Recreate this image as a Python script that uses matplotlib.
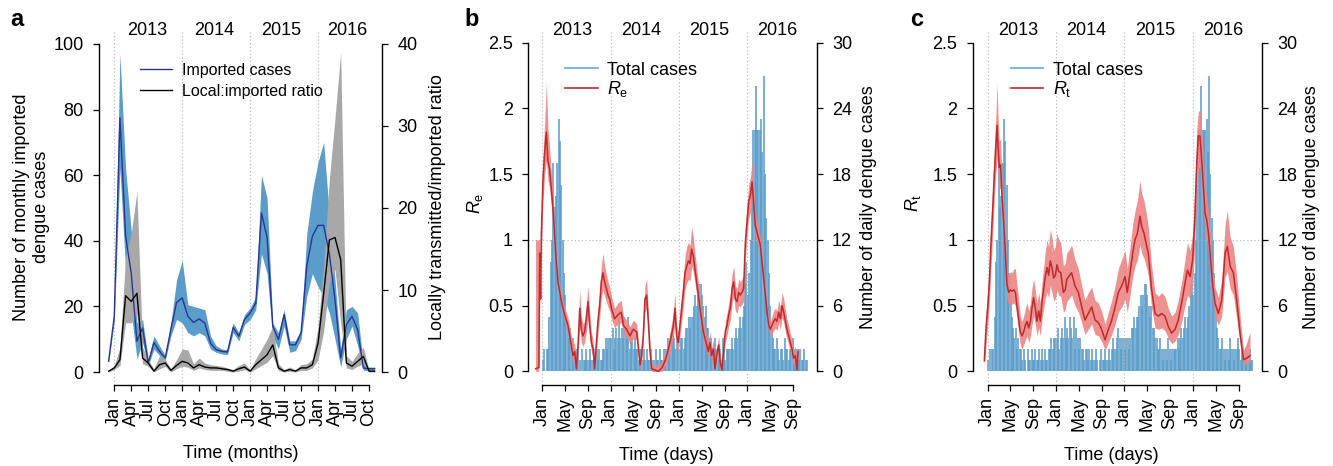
import matplotlib
matplotlib.use('Agg')
import matplotlib.pyplot as plt
from matplotlib.lines import Line2D
import numpy as np

plt.rcParams['font.family'] = ['Liberation Sans', 'DejaVu Sans']
plt.rcParams['mathtext.fontset'] = 'custom'
plt.rcParams['mathtext.rm'] = 'Liberation Sans'
plt.rcParams['mathtext.it'] = 'Liberation Sans:italic'
plt.rcParams['font.size'] = 13

W, H = 1333, 466
FS = 13

# ---------------- panel a: monthly series, Dec 2012 .. Nov 2016 (months since Jan 2013)
months = np.arange(-1, 47)
imported = [3.3, 17, 77.5, 41.4, 30, 9.4, 13.4, 2.7, 9, 6.3, 4.3, 13, 21.2, 22.6, 17, 15.1,
            16.2, 14.9, 8.8, 6.8, 6.3, 6.1, 13.6, 10.9, 16, 18, 21, 48.5, 41, 13.9, 9.9, 17.5,
            8.3, 8.3, 11.9, 32.2, 41.4, 44.7, 44.7, 36, 22, 4.3, 14.4, 17, 12.9, 1.2, 1, 1]
imported_lo = [2.8, 15.5, 62, 31, 18, 4, 9, 2, 7, 5, 3.5, 11, 16, 15, 12, 11,
               12, 11, 7, 6, 5.5, 5.3, 12, 9.5, 14.5, 16, 19, 36, 30, 11, 7, 14,
               6, 6.5, 10, 23, 30, 26, 23, 18, 10, 1.5, 10, 14, 8, 0.5, 0.5, 0.5]
imported_hi = [3.8, 18.5, 97, 62, 43, 15, 16, 4, 11, 8, 5, 15, 28, 34, 20.5, 20,
               19.5, 19, 11, 8, 7, 6.8, 15, 12, 17.5, 19.5, 23, 60, 53, 15, 12, 19,
               9.5, 9.5, 13, 42, 55, 64, 70, 48, 28, 7, 19, 20, 18, 2.5, 1.5, 1.5]
ratio = [0.1, 0.5, 1.5, 9.3, 8.6, 9.6, 1.7, 1.1, 0.1, 0.9, 1.1, 0.2, 0.8, 1.3, 1.1, 0.5,
         0.9, 0.6, 0.5, 0.5, 0.4, 0.3, 0.1, 0.4, 0.6, 0.1, 0.9, 1.5, 2.1, 3.3, 0.5, 0.1,
         0.3, 0.1, 0.5, 0.5, 0.9, 3.5, 9.6, 16.1, 16.4, 13.7, 1.1, 0.7, 1.3, 1.9, 0.1, 0.1]
ratio_lo = [0, 0.3, 0.8, 6, 6, 7, 1, 0.7, 0, 0.4, 0.7, 0, 0.4, 0.7, 0.6, 0.2,
            0.5, 0.3, 0.2, 0.2, 0.2, 0.1, 0, 0.1, 0.3, 0, 0.4, 0.8, 1.2, 2, 0.2, 0,
            0.1, 0, 0.2, 0.2, 0.5, 1.5, 5, 10.9, 12.5, 6, 0.5, 0.3, 0.7, 1, 0, 0]
ratio_hi = [0.2, 0.8, 3, 14, 17, 22, 3, 1.5, 0.4, 2, 1.5, 0.4, 1.5, 2.8, 2.7, 1,
            1.7, 1.1, 0.9, 0.8, 0.7, 0.5, 0.3, 0.8, 1.1, 0.3, 1.6, 2.8, 4, 5.6, 1, 0.3,
            0.6, 0.3, 0.9, 1, 1.6, 5.5, 13, 23.5, 31, 39, 2, 1.3, 2.3, 3, 0.3, 0.2]

month_ticks = np.arange(0, 46, 3)
month_labels = ['Jan', 'Apr', 'Jul', 'Oct'] * 4

# ---------------- panels b, c: daily total cases (weekly maxima, from 1 Jan of each year)
cases_2013 = [1, 2, 0, 2, 2, 5, 10, 12, 19, 15, 16, 19, 23, 21, 17, 12, 9, 7, 5, 4,
              3, 4, 2, 3, 2, 2, 1, 2, 1, 0, 2, 1, 1, 2, 1, 1, 2, 1, 1, 2,
              1, 2, 1, 2, 1, 1, 2, 2, 3, 2, 3, 3]
cases_2014 = [3, 4, 2, 3, 4, 3, 5, 3, 4, 3, 5, 4, 3, 5, 2, 4, 3, 2, 3, 2,
              2, 1, 2, 2, 1, 2, 1, 2, 1, 1, 2, 1, 0, 1, 2, 1, 1, 2, 1, 1,
              2, 1, 2, 3, 2, 2, 3, 4, 3, 2, 3, 3]
cases_2015 = [2, 3, 3, 2, 3, 4, 4, 5, 4, 5, 5, 6, 7, 6, 7, 8, 8, 7, 6, 5,
              6, 4, 4, 3, 3, 2, 2, 3, 2, 1, 2, 2, 1, 3, 2, 1, 2, 2, 2, 2,
              3, 2, 3, 4, 3, 4, 5, 4, 5, 6, 8, 10]
cases_2016 = [7, 9, 12, 17, 22, 22, 26, 22, 22, 22, 23, 20, 27, 18, 14, 12, 9, 6, 4, 3,
              2, 2, 3, 2, 1, 2, 2, 1, 3, 2, 2, 1, 2, 2, 3, 2, 1, 2, 2, 1,
              2, 1, 1, 2, 1, 1]

# Re (days since 1 Jan 2013)
re_day = [-36, -18, -14, -9, -5, 4, 13, 22, 30, 39, 48, 57, 66, 75, 84, 102, 119, 137, 152, 164,
          173, 182, 191, 200, 208, 217, 226, 235, 244, 253, 262, 271, 280, 289, 297, 306, 315, 324, 333, 342,
          351, 360, 369, 386, 404, 422, 433, 450, 468, 486, 504, 522, 530, 539, 548, 557, 566, 575, 584, 600,
          620, 640, 655, 668, 682, 700, 708, 717, 726, 735, 744, 753, 762, 771, 780, 789, 797, 806, 815, 824,
          842, 860, 878, 886, 895, 904, 913, 922, 931, 942, 950, 959, 968, 977, 986, 995, 1004, 1013, 1022, 1031,
          1040, 1048, 1057, 1066, 1075, 1084, 1093, 1102, 1111, 1120, 1128, 1137, 1146, 1155, 1164, 1173, 1182, 1191, 1200, 1209,
          1218, 1226, 1235, 1244, 1253, 1262, 1271, 1280, 1289, 1298, 1306, 1315, 1324, 1333, 1342, 1351, 1360, 1365]
re_mean = [0.02, 0.03, 0.9, 0.55, 1.05, 1.47, 1.67, 1.82, 1.6, 1.54, 1.39, 1.24, 1.03, 0.83, 0.68, 0.53, 0.43, 0.35, 0.22, 0.12,
           0.15, 0.02, 0.2, 0.48, 0.32, 0.27, 0.3, 0.4, 0.53, 0.35, 0.22, 0.17, 0.02, 0.22, 0.38, 0.5, 0.68, 0.75, 0.68, 0.63,
           0.58, 0.55, 0.48, 0.4, 0.43, 0.45, 0.35, 0.32, 0.27, 0.32, 0.3, 0.05, 0.12, 0.27, 0.55, 0.58, 0.38, 0.15, 0.02, 0.01,
           0.0, 0.03, 0.08, 0.14, 0.22, 0.35, 0.48, 0.27, 0.22, 0.35, 0.48, 0.6, 0.75, 0.8, 0.84, 0.82, 0.93, 0.88, 0.78, 0.68,
           0.48, 0.3, 0.2, 0.15, 0.22, 0.12, 0.17, 0.02, 0.12, 0.2, 0.07, 0.01, 0.15, 0.3, 0.35, 0.43, 0.48, 0.63, 0.68, 0.55,
           0.53, 0.6, 0.58, 0.6, 0.63, 0.98, 1.14, 1.29, 1.34, 1.44, 1.29, 1.11, 1.06, 1.01, 0.96, 0.83, 0.71, 0.58, 0.45, 0.35,
           0.32, 0.35, 0.38, 0.4, 0.38, 0.45, 0.4, 0.5, 0.45, 0.38, 0.32, 0.27, 0.22, 0.17, 0.1, 0.12, 0.01, 0.15]
re_lo = [0.0, 0.0, 0.75, 0.45, 0.9, 1.3, 1.5, 1.6, 1.45, 1.4, 1.26, 1.12, 0.94, 0.76, 0.62, 0.48, 0.38, 0.29, 0.16, 0.05,
         0.08, 0.0, 0.12, 0.35, 0.22, 0.19, 0.22, 0.3, 0.4, 0.26, 0.15, 0.1, 0.0, 0.14, 0.28, 0.4, 0.56, 0.62, 0.57, 0.53,
         0.49, 0.46, 0.4, 0.33, 0.36, 0.37, 0.29, 0.26, 0.21, 0.25, 0.24, 0.01, 0.06, 0.2, 0.45, 0.48, 0.3, 0.09, 0.0, 0.0,
         0.0, 0.0, 0.03, 0.08, 0.15, 0.26, 0.36, 0.19, 0.15, 0.26, 0.38, 0.49, 0.62, 0.67, 0.7, 0.69, 0.8, 0.76, 0.67, 0.58,
         0.4, 0.23, 0.14, 0.1, 0.15, 0.07, 0.11, 0.0, 0.06, 0.13, 0.02, 0.0, 0.09, 0.22, 0.27, 0.34, 0.39, 0.52, 0.57, 0.46,
         0.44, 0.5, 0.49, 0.51, 0.53, 0.86, 1.02, 1.16, 1.21, 1.3, 1.18, 1.02, 0.98, 0.94, 0.89, 0.77, 0.65, 0.52, 0.4, 0.3,
         0.27, 0.29, 0.31, 0.33, 0.31, 0.37, 0.32, 0.41, 0.37, 0.3, 0.25, 0.2, 0.16, 0.11, 0.05, 0.06, 0.0, 0.08]
re_hi = [1.0, 1.0, 1.0, 0.7, 1.2, 1.65, 1.9, 2.2, 1.85, 1.7, 1.52, 1.36, 1.13, 0.9, 0.74, 0.58, 0.49, 0.41, 0.3, 0.2,
         0.22, 0.08, 0.3, 0.62, 0.42, 0.36, 0.38, 0.5, 0.65, 0.45, 0.3, 0.24, 0.08, 0.3, 0.47, 0.6, 0.8, 0.9, 0.8, 0.74,
         0.68, 0.64, 0.57, 0.48, 0.52, 0.54, 0.42, 0.39, 0.34, 0.39, 0.36, 0.1, 0.18, 0.35, 0.65, 0.7, 0.46, 0.21, 0.06, 0.05,
         0.05, 0.08, 0.13, 0.2, 0.3, 0.44, 0.6, 0.35, 0.3, 0.44, 0.58, 0.72, 0.88, 0.95, 0.98, 0.96, 1.1, 1.02, 0.9, 0.79,
         0.57, 0.38, 0.27, 0.22, 0.3, 0.18, 0.24, 0.06, 0.18, 0.27, 0.12, 0.05, 0.22, 0.38, 0.44, 0.52, 0.58, 0.74, 0.8, 0.65,
         0.63, 0.7, 0.68, 0.7, 0.74, 1.1, 1.27, 1.42, 1.48, 1.6, 1.41, 1.21, 1.15, 1.09, 1.03, 0.9, 0.77, 0.64, 0.51, 0.41,
         0.38, 0.42, 0.46, 0.48, 0.46, 0.54, 0.49, 0.6, 0.55, 0.47, 0.4, 0.35, 0.29, 0.24, 0.16, 0.19, 0.05, 0.22]

# Rt (days since 1 Jan 2013)
rt_day = [-18, -9, 0, 9, 18, 27, 35, 44, 50, 55, 62, 69, 76, 85, 94, 103, 112, 121, 130, 140,
          148, 156, 165, 174, 183, 192, 201, 210, 219, 228, 236, 245, 254, 263, 272, 281, 290, 299, 308, 317,
          325, 334, 343, 352, 361, 370, 379, 390, 404, 414, 422, 432, 448, 466, 484, 502, 519, 537, 555, 573,
          591, 608, 626, 644, 662, 680, 697, 715, 733, 745, 760, 774, 786, 799, 813, 822, 834, 849, 857, 875,
          893, 911, 929, 946, 964, 982, 1000, 1017, 1035, 1053, 1066, 1080, 1094, 1106, 1115, 1124, 1133, 1142, 1151, 1160,
          1169, 1178, 1187, 1201, 1213, 1231, 1249, 1267, 1279, 1294, 1311, 1329, 1347, 1365, 1383, 1400]
rt_mean = [0.08, 0.33, 0.48, 0.68, 0.99, 1.24, 1.49, 1.72, 1.87, 1.72, 1.55, 1.57, 1.34, 1.14, 0.91, 0.66, 0.6, 0.62, 0.61, 0.62,
           0.6, 0.5, 0.4, 0.3, 0.27, 0.3, 0.35, 0.38, 0.33, 0.38, 0.48, 0.56, 0.48, 0.38, 0.46, 0.38, 0.53, 0.63, 0.73, 0.79,
           0.73, 0.84, 0.79, 0.71, 0.73, 0.81, 0.76, 0.75, 0.6, 0.62, 0.7, 0.72, 0.75, 0.65, 0.6, 0.49, 0.39, 0.44, 0.49, 0.39,
           0.37, 0.32, 0.24, 0.32, 0.39, 0.49, 0.6, 0.65, 0.72, 0.6, 0.75, 0.9, 1.0, 1.05, 1.18, 1.1, 1.05, 0.95, 0.9, 0.62,
           0.44, 0.42, 0.44, 0.42, 0.34, 0.29, 0.32, 0.39, 0.52, 0.67, 0.77, 0.72, 0.85, 1.18, 1.56, 1.79, 1.79, 1.61, 1.41, 1.2,
           1.15, 1.05, 0.9, 0.65, 0.52, 0.44, 0.54, 0.9, 0.95, 0.8, 0.75, 0.54, 0.29, 0.09, 0.1, 0.12]
rt_lo = [0.03, 0.2, 0.35, 0.52, 0.8, 1.05, 1.3, 1.52, 1.62, 1.52, 1.38, 1.4, 1.18, 0.98, 0.78, 0.55, 0.5, 0.52, 0.51, 0.52,
         0.5, 0.4, 0.3, 0.2, 0.17, 0.2, 0.24, 0.27, 0.22, 0.27, 0.35, 0.42, 0.36, 0.27, 0.33, 0.27, 0.4, 0.48, 0.56, 0.6,
         0.56, 0.65, 0.6, 0.54, 0.55, 0.62, 0.58, 0.57, 0.45, 0.47, 0.53, 0.55, 0.58, 0.5, 0.45, 0.37, 0.28, 0.32, 0.36, 0.28,
         0.27, 0.23, 0.16, 0.22, 0.28, 0.36, 0.45, 0.49, 0.55, 0.45, 0.58, 0.72, 0.8, 0.85, 0.96, 0.9, 0.86, 0.78, 0.73, 0.48,
         0.33, 0.32, 0.33, 0.31, 0.25, 0.21, 0.23, 0.28, 0.38, 0.5, 0.58, 0.55, 0.66, 0.98, 1.32, 1.55, 1.55, 1.4, 1.22, 1.04,
         1.0, 0.9, 0.77, 0.54, 0.42, 0.35, 0.42, 0.72, 0.76, 0.63, 0.58, 0.4, 0.2, 0.05, 0.06, 0.07]
rt_hi = [0.15, 0.45, 0.62, 0.85, 1.15, 1.42, 1.7, 1.95, 2.19, 1.95, 1.75, 1.77, 1.5, 1.3, 1.05, 0.78, 0.72, 0.76, 0.75, 0.78,
         0.78, 0.66, 0.55, 0.42, 0.38, 0.42, 0.48, 0.52, 0.46, 0.52, 0.63, 0.7, 0.62, 0.52, 0.6, 0.52, 0.68, 0.8, 0.92, 1.0,
         0.95, 1.08, 1.02, 0.92, 0.95, 1.05, 1.0, 0.98, 0.8, 0.82, 0.9, 0.92, 0.96, 0.85, 0.78, 0.65, 0.54, 0.6, 0.64, 0.54,
         0.52, 0.46, 0.36, 0.45, 0.54, 0.65, 0.78, 0.85, 0.92, 0.78, 0.95, 1.12, 1.22, 1.3, 1.45, 1.35, 1.3, 1.18, 1.1, 0.8,
         0.6, 0.57, 0.6, 0.57, 0.48, 0.42, 0.45, 0.54, 0.68, 0.85, 0.98, 0.92, 1.05, 1.42, 1.82, 1.98, 1.98, 1.82, 1.62, 1.4,
         1.33, 1.22, 1.05, 0.78, 0.64, 0.56, 0.7, 1.12, 1.22, 1.02, 0.95, 0.72, 0.42, 0.16, 0.22, 0.3]

base = np.datetime64('2013-01-01')
year_starts = [(np.datetime64(f'{y}-01-01') - base).astype(int) for y in (2013, 2014, 2015, 2016)]
day_tick_dates = [f'{y}-{m}-01' for y in (2013, 2014, 2015, 2016) for m in ('01', '05', '09')]
day_ticks = [(np.datetime64(d) - base).astype(int) for d in day_tick_dates]
day_labels = ['Jan', 'May', 'Sep'] * 4

case_days, case_counts = [], []
for y0, counts in zip(year_starts, [cases_2013, cases_2014, cases_2015, cases_2016]):
    case_days.extend(y0 + 7 * np.arange(len(counts)) + 3)
    case_counts.extend(counts)

# colours
IMP_BAND = '#5b9dca'
IMP_LINE = '#2a3596'
RAT_BAND = '#a8a8a8'
CASE_COL = '#5b9cca'
R_BAND = '#ef8585'
R_LINE = '#bf2a2d'
DOT_COL = '#b5b5b5'
DOTS = (0, (1, 2.2))


def r_style(ax, side):
    for s in ['top', 'left', 'right', 'bottom']:
        ax.spines[s].set_visible(s in side)
        ax.spines[s].set_linewidth(1.0)
    ax.tick_params(axis='y', direction='out', length=4.5, width=0.9, pad=6.5, labelsize=FS)
    ax.tick_params(axis='x', direction='out', length=4.5, width=0.9, pad=4.5, labelsize=FS)


def fig_text(x, y, s, **kw):
    fig.text(x / W, 1 - y / H, s, ha='center', va='center', **kw)


fig = plt.figure(figsize=(W / 100, H / 100), dpi=100)

# ---------------- panel a
ax = fig.add_axes([99 / W, (H - 385) / H, 283 / W, 354 / H])
ax2 = ax.twinx()
ax.set_xlim(-2.70, 47.3)
ax.set_ylim(-3.96, 103.96)
ax2.set_ylim(-1.585, 41.585)
for m in (0, 12, 24, 36):
    ax.axvline(m, color=DOT_COL, ls=DOTS, lw=0.8, zorder=0.5)
ax.fill_between(months, imported_lo, imported_hi, color=IMP_BAND, lw=0, zorder=1)
ax.fill_between(months, ratio_lo, ratio_hi, color=RAT_BAND, lw=0, zorder=2, transform=ax2.transData)
ax.plot(months, imported, color=IMP_LINE, lw=1.0, zorder=3, label='Imported cases')
ax.plot(months, ratio, color='black', lw=1.0, zorder=4, transform=ax2.transData,
        label='Local:imported ratio')
r_style(ax, ['left', 'bottom'])
r_style(ax2, ['right'])
ax.spines['left'].set_bounds(0, 100)
ax.spines['bottom'].set_bounds(0, 45)
ax2.spines['right'].set_bounds(0, 40)
ax.set_yticks([0, 20, 40, 60, 80, 100])
ax2.set_yticks([0, 10, 20, 30, 40])
ax.set_xticks(month_ticks)
ax.set_xticklabels(month_labels, rotation=90)
for x, yr in zip([5.9, 17.7, 29.5, 41.2], ['2013', '2014', '2015', '2016']):
    ax.text(x, 0.9887, yr, transform=ax.get_xaxis_transform(), ha='center', va='baseline', fontsize=FS)
ax.legend(loc='upper left', bbox_to_anchor=(0.145, 0.911), frameon=False, fontsize=11.5,
          handlelength=2.0, handletextpad=0.62, labelspacing=0.41, borderpad=0, borderaxespad=0)

fig_text(17, 20, 'a', fontsize=17, fontweight='bold')
fig_text(31.5, 207, 'Number of monthly imported\ndengue cases', rotation=90, linespacing=1.22)
fig_text(437, 207, 'Locally transmitted/imported ratio', rotation=90)
fig_text(241, 453, 'Time (months)')


# ---------------- panels b and c
def r_panel(left, width, xlim, r_day, r_mean, r_lo, r_hi, rlab, letter, lx, ylx, yrx, xlx):
    ax = fig.add_axes([left / W, (H - 384.5) / H, width / W, 355 / H])
    ax2 = ax.twinx()
    ax.set_zorder(ax2.get_zorder() + 1)
    ax.patch.set_visible(False)
    ax.set_xlim(*xlim)
    ax.set_ylim(-0.1, 2.6)
    ax2.set_ylim(-1.2, 31.2)
    ax2.vlines(case_days, 0, case_counts, color=CASE_COL, lw=1.15)
    for d in year_starts:
        ax.axvline(d, color=DOT_COL, ls=DOTS, lw=0.8, zorder=0.5)
    ax.axhline(1.0, color=DOT_COL, ls=DOTS, lw=0.8, zorder=0.5)
    ax.fill_between(r_day, r_lo, r_hi, color=R_BAND, alpha=0.9, lw=0, zorder=1)
    ax.plot(r_day, r_mean, color=R_LINE, lw=1.1, zorder=2)
    r_style(ax, ['left', 'bottom'])
    r_style(ax2, ['right'])
    ax.spines['left'].set_bounds(0, 2.5)
    ax.spines['bottom'].set_bounds(day_ticks[0], day_ticks[-1])
    ax2.spines['right'].set_bounds(0, 30)
    ax.set_yticks([0, 0.5, 1, 1.5, 2, 2.5])
    ax.set_yticklabels(['0', '0.5', '1', '1.5', '2', '2.5'])
    ax2.set_yticks([0, 6, 12, 18, 24, 30])
    ax.set_xticks(day_ticks)
    ax.set_xticklabels(day_labels, rotation=90)
    for d, yr in zip(year_starts, ['2013', '2014', '2015', '2016']):
        ax.text(d + 162, 0.9845, yr, transform=ax.get_xaxis_transform(), ha='center', va='baseline',
                fontsize=FS)
    handles = [Line2D([], [], color='#6aa8d6', lw=1.2), Line2D([], [], color=R_LINE, lw=1.2)]
    ax.legend(handles, ['Total cases', rlab], loc='upper left',
              bbox_to_anchor=((lx - left) / width, 0.909), frameon=False, fontsize=FS,
              handlelength=1.8, handletextpad=0.55, labelspacing=0.02, borderpad=0, borderaxespad=0)
    fig_text(left - 56.5, 20, letter, fontsize=17, fontweight='bold')
    fig_text(ylx, 203, rlab, rotation=90)
    fig_text(yrx, 207, 'Number of daily dengue cases', rotation=90)
    fig_text(xlx, 455, 'Time (days)')


r_panel(528.3, 288.4, (-74.7, 1465), re_day, re_mean, re_lo, re_hi, r'$R_{\mathrm{e}}$', 'b',
        565, 475, 868, 666.5)
r_panel(972.7, 289.6, (-80, 1465.5), rt_day, rt_mean, rt_lo, rt_hi, r'$R_{\mathrm{t}}$', 'c',
        1010.7, 913, 1311.7, 1111.3)

plt.savefig('out.png', dpi=100)
plt.close()
